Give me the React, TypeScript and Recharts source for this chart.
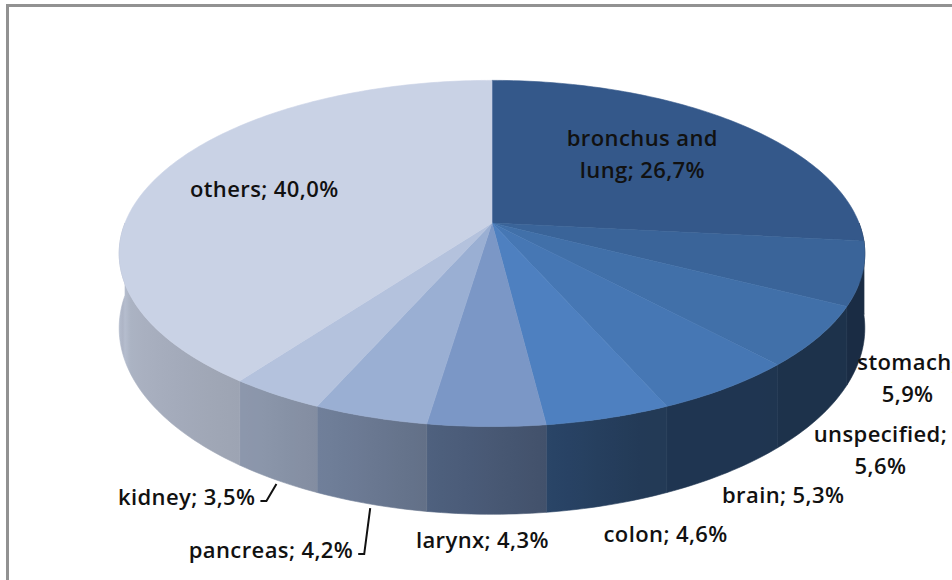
import React from "react";
import { PieChart, Pie, Cell } from "recharts";

const categories = [
  "bronchus and lung",
  "stomach",
  "unspecified",
  "brain",
  "colon",
  "larynx",
  "pancreas",
  "kidney",
  "others",
];
const shares = [26.7, 5.9, 5.6, 5.3, 4.6, 4.3, 4.2, 3.5, 40.0];
const sliceColors = [
  "#34588a",
  "#3a6499",
  "#4170a9",
  "#4677b4",
  "#4e80c0",
  "#7b97c6",
  "#9aafd3",
  "#b4c2dd",
  "#c9d2e5",
];

const data = categories.map((name, i) => ({ name, value: shares[i] }));

// 3d look: perspective strength, vertical squash and wall height (relative to radius)
const K = 0.176;
const SQUASH = 0.457;
const DEPTH = 0.197;
const RAD = Math.PI / 180;
const FONT = '"Open Sans"';
const FS = 22;
const FW = 600;
const LS = 0.4;
const LINE_H = 32;

// light on the side wall, by clock angle (90 = right, 180 = front, 270 = left)
const wallLight: [number, number][] = [
  [90, 0.44],
  [160, 0.45],
  [182, 0.6],
  [198, 0.7],
  [212, 0.77],
  [240, 0.84],
  [270, 0.9],
];

// labels that were dragged off the pie in the original (they get leader lines)
const dragged: Record<string, { dx: number; dy: number }> = {
  kidney: { dx: -21, dy: 18 },
  pancreas: { dx: -17, dy: 47 },
};

function project(cx: number, cy: number, R: number, angle: number, r = 1) {
  const u = r * Math.cos(angle * RAD);
  const v = -r * Math.sin(angle * RAD);
  const w = 1 - K * v;
  return { x: cx + (R * u) / w, y: cy + (R * SQUASH * v) / w, drop: (R * DEPTH) / w };
}

function lightAt(theta: number) {
  for (let i = 1; i < wallLight.length; i++) {
    const [t0, f0] = wallLight[i - 1];
    const [t1, f1] = wallLight[i];
    if (theta <= t1) return f0 + ((f1 - f0) * (theta - t0)) / (t1 - t0);
  }
  return wallLight[wallLight.length - 1][1];
}

function shade(hex: string, f: number) {
  const n = parseInt(hex.slice(1), 16);
  const ch = [(n >> 16) & 255, (n >> 8) & 255, n & 255].map((c) =>
    Math.max(0, Math.min(255, Math.round(c * f)))
  );
  return `rgb(${ch[0]},${ch[1]},${ch[2]})`;
}

function TopFace(props: any) {
  const { cx, cy, outerRadius, startAngle, endAngle, fill } = props;
  const steps = Math.max(2, Math.ceil(Math.abs(endAngle - startAngle)));
  let d = `M${cx},${cy}`;
  for (let i = 0; i <= steps; i++) {
    const a = startAngle + ((endAngle - startAngle) * i) / steps;
    const p = project(cx, cy, outerRadius, a);
    d += `L${p.x.toFixed(2)},${p.y.toFixed(2)}`;
  }
  return <path d={d + "Z"} fill={fill} stroke={fill} strokeWidth={0.6} />;
}

function Wall(props: any) {
  const { cx, cy, outerRadius, startAngle, endAngle, fill, name } = props;
  const hi = Math.min(Math.max(startAngle, endAngle), 0);
  const lo = Math.max(Math.min(startAngle, endAngle), -180);
  if (hi <= lo) return <g />;
  const steps = Math.max(2, Math.ceil(hi - lo));
  const pts = [];
  for (let i = 0; i <= steps; i++) {
    const a = hi - ((hi - lo) * i) / steps;
    pts.push({ a, ...project(cx, cy, outerRadius, a) });
  }
  const xs = pts.map((p) => p.x);
  const x0 = Math.min(...xs);
  const x1 = Math.max(...xs);
  const id = "wall-" + String(name).replace(/[^a-z0-9]/gi, "");
  const top = pts.map((p) => `${p.x.toFixed(2)},${p.y.toFixed(2)}`).join("L");
  const bottom = pts
    .slice()
    .reverse()
    .map((p) => `${p.x.toFixed(2)},${(p.y + p.drop).toFixed(2)}`)
    .join("L");
  const stopEvery = Math.max(1, Math.floor(steps / 8));
  const stops = pts
    .filter((_, i) => i % stopEvery === 0 || i === steps)
    .map((p) => ({
      off: x1 > x0 ? (p.x - x0) / (x1 - x0) : 0,
      c: shade(fill, lightAt(90 - p.a)),
    }))
    .sort((a, b) => a.off - b.off);
  return (
    <g>
      <defs>
        <linearGradient id={id} gradientUnits="userSpaceOnUse" x1={x0} y1={0} x2={x1} y2={0}>
          {stops.map((s, i) => (
            <stop key={i} offset={s.off} stopColor={s.c} />
          ))}
        </linearGradient>
      </defs>
      <path d={`M${top}L${bottom}Z`} fill={`url(#${id})`} stroke={`url(#${id})`} strokeWidth={0.6} />
    </g>
  );
}

let ctx: CanvasRenderingContext2D | null = null;
function textWidth(s: string) {
  if (!ctx) ctx = document.createElement("canvas").getContext("2d");
  if (!ctx) return s.length * FS * 0.55;
  ctx.font = `${FW} ${FS}px ${FONT}`;
  return ctx.measureText(s).width + LS * s.length;
}

function wrap(text: string, maxW: number) {
  const words = text.split(" ");
  const lines: string[] = [];
  let cur = "";
  for (const w of words) {
    const next = cur ? cur + " " + w : w;
    if (cur && textWidth(next) > maxW) {
      lines.push(cur);
      cur = w;
    } else cur = next;
  }
  if (cur) lines.push(cur);
  return lines;
}

function renderLabel(props: any) {
  const { cx, cy, outerRadius, midAngle, name, value, percent } = props;
  const text = `${name}; ${Number(value).toFixed(1).replace(".", ",")}%`;
  const style = {
    fontFamily: FONT,
    fontSize: FS,
    fontWeight: FW,
    letterSpacing: LS,
    fill: "#111",
  };

  if (percent > 0.2) {
    const p = project(cx, cy, outerRadius, midAngle, 0.64);
    const lines = wrap(text, 165);
    const top = p.y - (lines.length * LINE_H) / 2;
    return (
      <text textAnchor="middle" style={style}>
        {lines.map((l, i) => (
          <tspan key={i} x={p.x - 12} y={top + 22 + i * LINE_H}>
            {l}
          </tspan>
        ))}
      </text>
    );
  }

  const b = project(cx, cy, outerRadius, midAngle);
  const bx = b.x;
  const by = b.y + b.drop;
  const s = Math.cos(midAngle * RAD);
  const moved = dragged[name];

  if (moved) {
    const right = bx + moved.dx;
    const ty = by + moved.dy;
    return (
      <g>
        <text x={right} y={ty + 7} textAnchor="end" style={style}>
          {text}
        </text>
        <polyline
          points={`${right + 5},${ty + 3} ${right + 11},${ty + 3} ${bx},${by + 4}`}
          fill="none"
          stroke="#111"
          strokeWidth={2}
        />
      </g>
    );
  }

  if (Math.abs(s) < 0.12) {
    return (
      <text x={bx - 4} y={by + 34} textAnchor="middle" style={style}>
        {text}
      </text>
    );
  }
  const top = by + 24 * (1 - Math.abs(s)) - 2;
  const left = bx - 5;
  const lines = wrap(text, 944 - left);
  const blockW = Math.max(...lines.map(textWidth));
  const mx = left + blockW / 2;
  return (
    <text textAnchor="middle" style={style}>
      {lines.map((l, i) => (
        <tspan key={i} x={mx} y={top + 21 + i * LINE_H}>
          {l}
        </tspan>
      ))}
    </text>
  );
}

export default function App() {
  return (
    <div
      style={{
        position: "absolute",
        left: 0,
        top: 0,
        width: 952,
        height: 580,
        overflow: "hidden",
        background: "#fff",
      }}
    >
      <div
        style={{
          position: "absolute",
          left: 6,
          top: 4,
          width: 1000,
          height: 700,
          border: "3px solid #929292",
        }}
      />
      <div style={{ position: "absolute", left: 0, top: 0 }}>
        <PieChart width={952} height={580}>
          <Pie
            data={data}
            dataKey="value"
            nameKey="name"
            cx={487}
            cy={218}
            innerRadius={0}
            outerRadius={367}
            startAngle={90}
            endAngle={-270}
            stroke="none"
            shape={Wall}
            isAnimationActive={false}
          >
            {data.map((d, i) => (
              <Cell key={d.name} fill={sliceColors[i]} />
            ))}
          </Pie>
          <Pie
            data={data}
            dataKey="value"
            nameKey="name"
            cx={487}
            cy={218}
            innerRadius={0}
            outerRadius={367}
            startAngle={90}
            endAngle={-270}
            stroke="none"
            shape={TopFace}
            label={renderLabel}
            labelLine={false}
            isAnimationActive={false}
          >
            {data.map((d, i) => (
              <Cell key={d.name} fill={sliceColors[i]} />
            ))}
          </Pie>
        </PieChart>
      </div>
    </div>
  );
}
